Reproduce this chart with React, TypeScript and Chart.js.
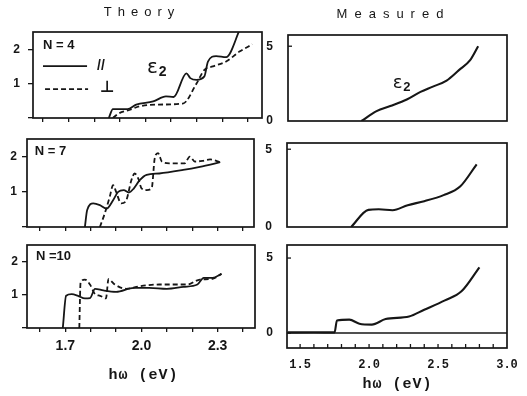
import React, { useEffect, useRef } from "react";
import { Chart, registerables } from "chart.js";

Chart.register(...registerables);

// ---------------- data ----------------
// Theory, N = 4
const n4ParallelX = [1.857, 1.873, 1.93, 1.964, 2.03, 2.08, 2.11, 2.16, 2.175, 2.2, 2.23, 2.244, 2.276, 2.315, 2.37];
const n4ParallelY = [0, 0.26, 0.26, 0.39, 0.48, 0.63, 0.61, 1.3, 1.16, 1.11, 1.21, 1.64, 1.8, 1.77, 2.6];
const n4PerpX = [1.873, 1.893, 1.94, 1.977, 2.04, 2.146, 2.2, 2.23, 2.263, 2.315, 2.367, 2.417];
const n4PerpY = [0, 0.12, 0.24, 0.34, 0.39, 0.42, 1.01, 1.4, 1.5, 1.64, 1.93, 2.14];

// Theory, N = 7
const n7ParallelX = [1.777, 1.786, 1.81, 1.836, 1.862, 1.888, 1.908, 1.93, 1.95, 1.97, 1.993, 2.02, 2.07, 2.164, 2.23, 2.31];
const n7ParallelY = [0, 0.48, 0.67, 0.62, 0.52, 0.76, 1.0, 1.05, 0.98, 1.1, 1.33, 1.48, 1.52, 1.62, 1.71, 1.84];
const n7PerpX = [1.836, 1.855, 1.875, 1.888, 1.9, 1.92, 1.94, 1.96, 1.973, 1.987, 2.0, 2.02, 2.04, 2.052, 2.065, 2.08, 2.11, 2.17, 2.19, 2.21, 2.24, 2.27, 2.31];
const n7PerpY = [0, 0.38, 0.86, 1.19, 1.0, 0.67, 0.76, 1.33, 1.52, 1.38, 1.1, 1.05, 1.1, 1.95, 2.1, 1.86, 1.81, 1.81, 2.0, 1.86, 1.88, 1.92, 1.84];

// Theory, N = 10
const n10ParallelX = [1.69, 1.703, 1.725, 1.75, 1.777, 1.797, 1.817, 1.85, 1.9, 1.97, 2.03, 2.1, 2.165, 2.22, 2.245, 2.28, 2.315];
const n10ParallelY = [0, 0.97, 1.02, 0.97, 0.89, 0.9, 1.18, 1.13, 1.09, 1.21, 1.21, 1.18, 1.24, 1.31, 1.51, 1.51, 1.63];
const n10PerpX = [1.755, 1.76, 1.777, 1.797, 1.817, 1.837, 1.86, 1.87, 1.895, 1.94, 1.994, 2.07, 2.18, 2.23, 2.28, 2.315];
const n10PerpY = [0, 1.36, 1.46, 1.31, 1.02, 0.97, 0.89, 1.47, 1.31, 1.18, 1.26, 1.31, 1.31, 1.46, 1.48, 1.63];

// Measured
const meas1X = [1.94, 2.05, 2.15, 2.27, 2.37, 2.46, 2.56, 2.65, 2.73, 2.79];
const meas1Y = [0, 0.66, 1.0, 1.44, 1.95, 2.3, 2.7, 3.4, 4.05, 5.0];
const meas2X = [1.87, 1.995, 2.07, 2.17, 2.28, 2.4, 2.54, 2.66, 2.78];
const meas2Y = [0, 1.1, 1.14, 1.08, 1.4, 1.66, 2.05, 2.6, 4.03];
const meas3X = [1.41, 1.6, 1.75, 1.767, 1.857, 1.93, 2.02, 2.12, 2.29, 2.4, 2.55, 2.67, 2.8];
const meas3Y = [0.04, 0.05, 0.04, 0.84, 0.89, 0.62, 0.56, 0.93, 1.1, 1.55, 2.18, 2.78, 4.38];

// Ticks / labels
const THEORY_X_TICKS = [1.6, 1.7, 1.8, 1.9, 2.0, 2.1, 2.2, 2.3, 2.4];
const THEORY_X_LABELS = [1.7, 2.0, 2.3];
const THEORY_Y_TICKS = [0, 1, 2];
const THEORY_Y_LABELS = [1, 2];
const MEAS_X_TICKS = [1.5, 1.6, 1.7, 1.8, 1.9, 2.0, 2.1, 2.2, 2.3, 2.4, 2.5, 2.6, 2.7, 2.8, 2.9, 3.0];
const MEAS_X_LABELS = [1.5, 2.0, 2.5, 3.0];
const MEAS_Y_TICKS = [0, 5];
const MEAS_Y_LABELS = [0, 5];
const NONE: number[] = [];

// ---------------- layout ----------------
const INK = "#161616";
const PAD_T = 20;
const PAD_R = 20;
const PAD_B = 30;
const SANS = "'Liberation Sans', Arial, sans-serif";

type Pt = { x: number; y: number };
const zip = (xs: number[], ys: number[]): Pt[] => xs.map((x, i) => ({ x, y: ys[i] }));

type Note =
  | { kind: "text"; x: number; y: number; text: string; font: string }
  | { kind: "line"; x1: number; x2: number; y: number; dashed: boolean }
  | { kind: "eps"; x: number; y: number; size: number };

interface Panel {
  id: string;
  side: "left" | "right";
  frame: { l: number; t: number; r: number; b: number };
  padL: number;
  xMin: number;
  xMax: number;
  yMin: number;
  yMax: number;
  xTicks: number[];
  xLabels: number[];
  yTicks: number[];
  yLabels: number[];
  xFontSize: number;
  xPad: number;
  yPad: number;
  showXTicks: boolean;
  zeroLine: boolean;
  lineWidth: number;
  series: { data: Pt[]; dashed: boolean }[];
  notes: Note[];
}

const PANELS: Panel[] = [
  {
    id: "n4", side: "left", frame: { l: 33, t: 32, r: 262, b: 118 }, padL: 30,
    xMin: 1.561, xMax: 2.455, yMin: 0, yMax: 2.5,
    xTicks: THEORY_X_TICKS, xLabels: NONE, yTicks: THEORY_Y_TICKS, yLabels: THEORY_Y_LABELS,
    xFontSize: 14, xPad: 6, yPad: 8, showXTicks: true, zeroLine: false, lineWidth: 1.8,
    series: [
      { data: zip(n4ParallelX, n4ParallelY), dashed: false },
      { data: zip(n4PerpX, n4PerpY), dashed: true },
    ],
    notes: [
      { kind: "text", x: 1.6, y: 2.12, text: "N = 4", font: `bold 13px ${SANS}` },
      { kind: "line", x1: 1.6, x2: 1.772, y: 1.51, dashed: false },
      { kind: "text", x: 1.811, y: 1.5, text: "//", font: `bold 14px ${SANS}` },
      { kind: "line", x1: 1.608, x2: 1.776, y: 0.84, dashed: true },
      { kind: "text", x: 1.823, y: 0.88, text: "⊥", font: `bold 16px 'DejaVu Sans', sans-serif` },
      { kind: "eps", x: 2.006, y: 1.45, size: 20 },
    ],
  },
  {
    id: "n7", side: "left", frame: { l: 27, t: 139, r: 254, b: 227 }, padL: 26,
    xMin: 1.549, xMax: 2.443, yMin: 0, yMax: 2.5,
    xTicks: THEORY_X_TICKS, xLabels: NONE, yTicks: THEORY_Y_TICKS, yLabels: THEORY_Y_LABELS,
    xFontSize: 14, xPad: 6, yPad: 5, showXTicks: true, zeroLine: false, lineWidth: 1.8,
    series: [
      { data: zip(n7ParallelX, n7ParallelY), dashed: false },
      { data: zip(n7PerpX, n7PerpY), dashed: true },
    ],
    notes: [{ kind: "text", x: 1.58, y: 2.14, text: "N = 7", font: `bold 13px ${SANS}` }],
  },
  {
    id: "n10", side: "left", frame: { l: 27, t: 245, r: 255, b: 328 }, padL: 26,
    xMin: 1.549, xMax: 2.447, yMin: 0, yMax: 2.5,
    xTicks: THEORY_X_TICKS, xLabels: THEORY_X_LABELS, yTicks: THEORY_Y_TICKS, yLabels: THEORY_Y_LABELS,
    xFontSize: 14, xPad: 6, yPad: 4, showXTicks: true, zeroLine: false, lineWidth: 1.8,
    series: [
      { data: zip(n10ParallelX, n10ParallelY), dashed: false },
      { data: zip(n10PerpX, n10PerpY), dashed: true },
    ],
    notes: [{ kind: "text", x: 1.584, y: 2.15, text: "N =10", font: `bold 13px ${SANS}` }],
  },
  {
    id: "m1", side: "right", frame: { l: 288, t: 35, r: 507, b: 121 }, padL: 30,
    xMin: 1.405, xMax: 3.0, yMin: 0, yMax: 5.75,
    xTicks: MEAS_X_TICKS, xLabels: NONE, yTicks: MEAS_Y_TICKS, yLabels: MEAS_Y_LABELS,
    xFontSize: 12, xPad: 6, yPad: 10, showXTicks: false, zeroLine: false, lineWidth: 2.1,
    series: [{ data: zip(meas1X, meas1Y), dashed: false }],
    notes: [{ kind: "eps", x: 2.167, y: 2.53, size: 18 }],
  },
  {
    id: "m2", side: "right", frame: { l: 287, t: 143, r: 507, b: 227 }, padL: 30,
    xMin: 1.405, xMax: 3.0, yMin: 0, yMax: 5.4,
    xTicks: MEAS_X_TICKS, xLabels: NONE, yTicks: MEAS_Y_TICKS, yLabels: MEAS_Y_LABELS,
    xFontSize: 12, xPad: 6, yPad: 10, showXTicks: false, zeroLine: false, lineWidth: 2.1,
    series: [{ data: zip(meas2X, meas2Y), dashed: false }],
    notes: [],
  },
  {
    id: "m3", side: "right", frame: { l: 287, t: 245, r: 507, b: 348 }, padL: 30,
    xMin: 1.405, xMax: 3.0, yMin: -1, yMax: 5.87,
    xTicks: MEAS_X_TICKS, xLabels: MEAS_X_LABELS, yTicks: MEAS_Y_TICKS, yLabels: MEAS_Y_LABELS,
    xFontSize: 12, xPad: 6, yPad: 9, showXTicks: true, zeroLine: true, lineWidth: 2.1,
    series: [{ data: zip(meas3X, meas3Y), dashed: false }],
    notes: [],
  },
];

const near = (arr: number[], v: number) => arr.some((a) => Math.abs(a - v) < 1e-6);

function decorPlugin(p: Panel) {
  return {
    id: "decor_" + p.id,
    afterDraw(chart: any) {
      const { ctx, chartArea: a, scales } = chart;
      const xs = scales.x;
      const ys = scales.y;
      ctx.save();
      ctx.strokeStyle = INK;
      ctx.fillStyle = INK;
      ctx.setLineDash([]);

      if (p.zeroLine) {
        const y0 = ys.getPixelForValue(0);
        ctx.lineWidth = 1.5;
        ctx.beginPath();
        ctx.moveTo(a.left, y0);
        ctx.lineTo(a.right, y0);
        ctx.stroke();
      }

      if (p.side === "right") {
        ctx.lineWidth = 1.3;
        if (p.showXTicks) {
          for (const t of xs.ticks) {
            const px = xs.getPixelForValue(t.value);
            if (px < a.left + 2 || px > a.right - 2) continue;
            ctx.beginPath();
            ctx.moveTo(px, a.bottom);
            ctx.lineTo(px, a.bottom - 4);
            ctx.stroke();
          }
        }
        for (const t of ys.ticks) {
          const py = ys.getPixelForValue(t.value);
          if (py < a.top + 2 || py > a.bottom - 2) continue;
          ctx.beginPath();
          ctx.moveTo(a.left, py);
          ctx.lineTo(a.left + 4, py);
          ctx.stroke();
        }
      }

      // frame
      ctx.lineWidth = 1.7;
      ctx.strokeRect(a.left, a.top, a.right - a.left, a.bottom - a.top);

      // annotations
      ctx.textBaseline = "middle";
      ctx.textAlign = "left";
      for (const n of p.notes) {
        if (n.kind === "text") {
          ctx.font = n.font;
          ctx.fillText(n.text, xs.getPixelForValue(n.x), ys.getPixelForValue(n.y));
        } else if (n.kind === "line") {
          ctx.lineWidth = 1.8;
          ctx.setLineDash(n.dashed ? [5, 3] : []);
          const py = ys.getPixelForValue(n.y);
          ctx.beginPath();
          ctx.moveTo(xs.getPixelForValue(n.x1), py);
          ctx.lineTo(xs.getPixelForValue(n.x2), py);
          ctx.stroke();
          ctx.setLineDash([]);
        } else if (n.kind === "eps") {
          const px = xs.getPixelForValue(n.x);
          const py = ys.getPixelForValue(n.y);
          ctx.font = `${n.size}px 'DejaVu Sans', sans-serif`;
          ctx.fillText("ε", px, py);
          const w = ctx.measureText("ε").width;
          ctx.font = `bold ${Math.round(n.size * 0.72)}px ${SANS}`;
          ctx.fillText("2", px + w + 1, py + n.size * 0.22);
        }
      }
      ctx.restore();
    },
  };
}

function buildConfig(p: Panel): any {
  const isLeft = p.side === "left";
  return {
    type: "line",
    data: {
      datasets: p.series.map((s) => ({
        data: s.data,
        borderColor: INK,
        borderWidth: p.lineWidth,
        borderDash: s.dashed ? [5, 3] : [],
        pointRadius: 0,
        fill: false,
        cubicInterpolationMode: "monotone",
      })),
    },
    options: {
      animation: false,
      responsive: false,
      devicePixelRatio: 1,
      events: [],
      layout: { padding: { left: 0, top: PAD_T, right: PAD_R, bottom: 0 } },
      plugins: { legend: { display: false }, tooltip: { enabled: false }, title: { display: false } },
      scales: {
        x: {
          type: "linear",
          min: p.xMin,
          max: p.xMax,
          afterBuildTicks: (s: any) => {
            s.ticks = p.xTicks.map((v) => ({ value: v }));
          },
          afterFit: (s: any) => {
            s.height = PAD_B;
          },
          ticks: {
            display: p.xLabels.length > 0,
            autoSkip: false,
            maxRotation: 0,
            padding: p.xPad,
            color: INK,
            font: isLeft
              ? { family: SANS, size: p.xFontSize, weight: "bold" }
              : { family: "'Liberation Mono', monospace", size: p.xFontSize, weight: "bold" },
            callback: (v: number) => (near(p.xLabels, v) ? v.toFixed(1) : ""),
          },
          grid: {
            display: isLeft,
            drawOnChartArea: false,
            drawTicks: true,
            tickLength: 4,
            color: INK,
            lineWidth: 1.3,
          },
          border: { display: false },
        },
        y: {
          type: "linear",
          min: p.yMin,
          max: p.yMax,
          afterBuildTicks: (s: any) => {
            s.ticks = p.yTicks.map((v) => ({ value: v }));
          },
          afterFit: (s: any) => {
            s.width = p.padL;
          },
          ticks: {
            autoSkip: false,
            padding: p.yPad,
            color: INK,
            font: { family: SANS, size: 12, weight: "bold" },
            callback: (v: number) => (near(p.yLabels, v) ? String(v) : ""),
          },
          grid: {
            display: isLeft,
            drawOnChartArea: false,
            drawTicks: true,
            tickLength: 5,
            color: INK,
            lineWidth: 1.3,
          },
          border: { display: false },
        },
      },
    },
    plugins: [decorPlugin(p)],
  };
}

function PanelChart({ p }: { p: Panel }) {
  const ref = useRef<HTMLCanvasElement>(null);
  useEffect(() => {
    if (!ref.current) return;
    const chart = new Chart(ref.current, buildConfig(p));
    return () => chart.destroy();
  }, [p]);
  const w = p.frame.r - p.frame.l + p.padL + PAD_R;
  const h = p.frame.b - p.frame.t + PAD_T + PAD_B;
  return (
    <canvas
      ref={ref}
      width={w}
      height={h}
      style={{ position: "absolute", left: p.frame.l - p.padL, top: p.frame.t - PAD_T, width: w, height: h }}
    />
  );
}

function Label({ text, cx, top, font, spacing }: { text: string; cx: number; top: number; font: string; spacing: number }) {
  return (
    <div
      style={{
        position: "absolute",
        left: cx - 100,
        top,
        width: 200,
        textAlign: "center",
        font,
        letterSpacing: spacing,
        paddingLeft: spacing,
        boxSizing: "border-box",
        color: INK,
        whiteSpace: "nowrap",
        lineHeight: "18px",
      }}
    >
      {text}
    </div>
  );
}

export default function App() {
  return (
    <div
      style={{
        position: "fixed",
        left: 0,
        top: 0,
        width: 527,
        height: 396,
        background: "#ffffff",
        overflow: "hidden",
      }}
    >
      {PANELS.map((p) => (
        <PanelChart key={p.id} p={p} />
      ))}
      <Label text="Theory" cx={139} top={3} font={`13px ${SANS}`} spacing={6} />
      <Label text="Measured" cx={390} top={5} font={`13px ${SANS}`} spacing={7} />
      <Label text="hω (eV)" cx={143} top={367} font={`bold 15px 'Liberation Mono', monospace`} spacing={1} />
      <Label text="hω (eV)" cx={397} top={376} font={`bold 15px 'Liberation Mono', monospace`} spacing={1} />
    </div>
  );
}
